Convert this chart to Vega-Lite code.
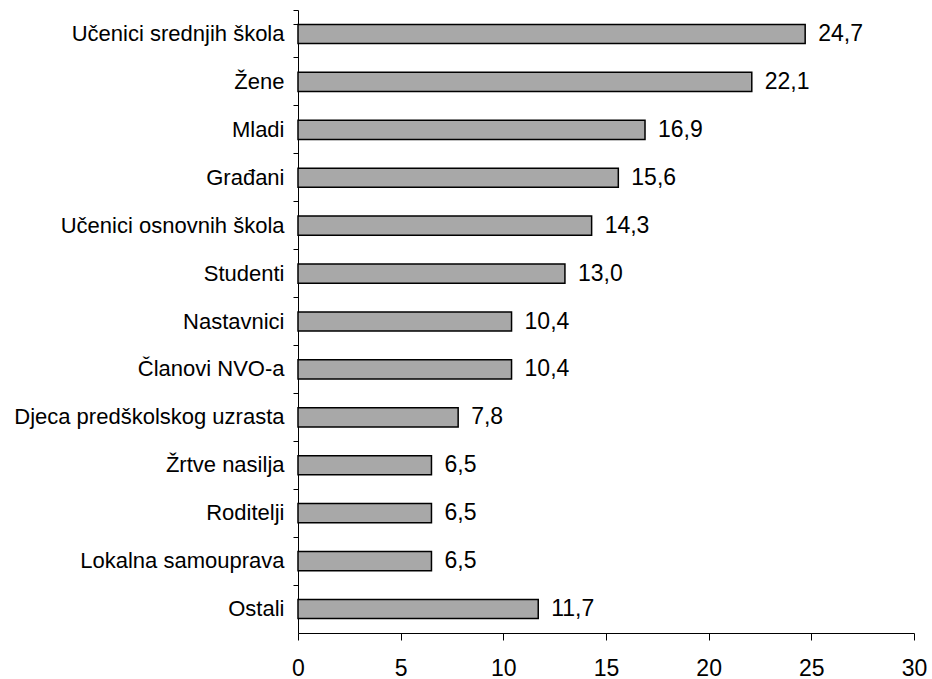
{
  "$schema": "https://vega.github.io/schema/vega-lite/v6.json",
  "width": 616,
  "height": 623,
  "autosize": {"type": "none"},
  "padding": {"left": 298, "top": 10, "right": 18, "bottom": 46},
  "background": "white",
  "config": {"view": {"stroke": null}, "font": "Liberation Sans"},
  "data": {"values": [
    {"kat": "Učenici srednjih škola", "v": 24.7, "lbl": "24,7"},
    {"kat": "Žene", "v": 22.1, "lbl": "22,1"},
    {"kat": "Mladi", "v": 16.9, "lbl": "16,9"},
    {"kat": "Građani", "v": 15.6, "lbl": "15,6"},
    {"kat": "Učenici osnovnih škola", "v": 14.3, "lbl": "14,3"},
    {"kat": "Studenti", "v": 13.0, "lbl": "13,0"},
    {"kat": "Nastavnici", "v": 10.4, "lbl": "10,4"},
    {"kat": "Članovi NVO-a", "v": 10.4, "lbl": "10,4"},
    {"kat": "Djeca predškolskog uzrasta", "v": 7.8, "lbl": "7,8"},
    {"kat": "Žrtve nasilja", "v": 6.5, "lbl": "6,5"},
    {"kat": "Roditelji", "v": 6.5, "lbl": "6,5"},
    {"kat": "Lokalna samouprava", "v": 6.5, "lbl": "6,5"},
    {"kat": "Ostali", "v": 11.7, "lbl": "11,7"}
  ]},
  "encoding": {
    "y": {
      "field": "kat", "type": "nominal", "sort": null,
      "scale": {"paddingInner": 0.6, "paddingOuter": 0.3},
      "axis": {
        "title": null, "domainColor": "black", "domainWidth": 1,
        "tickColor": "black", "tickSize": 5, "bandPosition": -0.75, "tickExtra": true,
        "labelFontSize": 22, "labelColor": "black", "labelPadding": 9, "labelLimit": 300
      }
    },
    "x": {
      "field": "v", "type": "quantitative",
      "scale": {"domain": [0, 30], "nice": false},
      "axis": {
        "title": null, "grid": false, "values": [0, 5, 10, 15, 20, 25, 30],
        "domainColor": "black", "tickColor": "black", "tickSize": 7,
        "labelFontSize": 23, "labelColor": "black", "labelPadding": 17,
        "labelFlush": false
      }
    }
  },
  "layer": [
    {"mark": {"type": "bar", "fill": "#a8a8a8", "stroke": "black", "strokeWidth": 1.5}},
    {"mark": {"type": "text", "align": "left", "dx": 13, "fontSize": 23, "color": "black"},
     "encoding": {"text": {"field": "lbl"}}}
  ]
}
